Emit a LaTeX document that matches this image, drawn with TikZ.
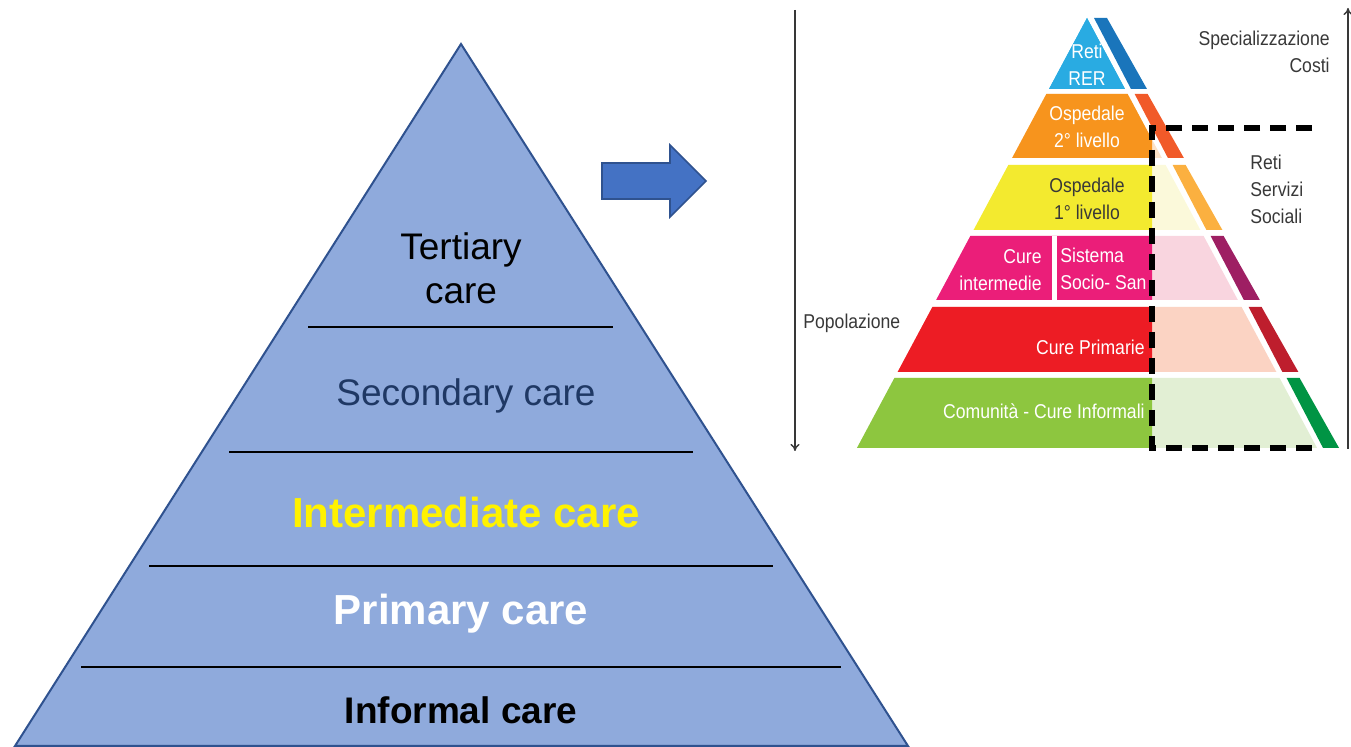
\documentclass[tikz,border=0pt]{standalone}
\usepackage{fontspec}
\setmainfont{Liberation Sans}
\newfontfamily\narrowfont[FakeStretch=0.88]{Liberation Sans}
\usetikzlibrary{arrows.meta}

\definecolor{pyrfill}{HTML}{8FAADC}
\definecolor{pyrline}{HTML}{2F528F}
\definecolor{arrfill}{HTML}{4472C4}
\definecolor{navytxt}{HTML}{1F3864}
\definecolor{greytxt}{HTML}{383838}
\definecolor{rer}{HTML}{29ABE2}
\definecolor{rerS}{HTML}{1A75BB}
\definecolor{osp2}{HTML}{F7941D}
\definecolor{osp2L}{HTML}{FDE3C8}
\definecolor{osp2S}{HTML}{F15A29}
\definecolor{osp1}{HTML}{F3EA2F}
\definecolor{osp1L}{HTML}{FBF9DA}
\definecolor{osp1S}{HTML}{FBB040}
\definecolor{inter}{HTML}{EB1E79}
\definecolor{interL}{HTML}{F9D5DF}
\definecolor{interS}{HTML}{9E1F63}
\definecolor{prim}{HTML}{ED1C24}
\definecolor{primL}{HTML}{FBD3C3}
\definecolor{primS}{HTML}{BE1E2D}
\definecolor{comm}{HTML}{8DC63F}
\definecolor{commL}{HTML}{E2EFD4}
\definecolor{commS}{HTML}{009444}

\tikzset{
  leveltxt/.style={font=\fontsize{18.5}{22}\selectfont, align=center},
  levelbold/.style={font=\fontsize{21}{25}\selectfont\bfseries},
  sepline/.style={black, line width=1pt},
  smalltxt/.style={font=\narrowfont\fontsize{10}{13.5}\selectfont, inner sep=0pt},
  axisline/.style={greytxt, line width=0.7pt, -{To[length=3.5pt,width=4.5pt]}},
  dashline/.style={black, line width=3pt, dash pattern=on 8pt off 5pt}
}

\begin{document}
\begin{tikzpicture}[x=0.5pt, y=-0.5pt]
  \useasboundingbox (0,0) rectangle (1351,747);

  % left pyramid
  \draw[pyrline, fill=pyrfill, line width=1pt] (461,44) -- (908,746) -- (15,746) -- cycle;
  \foreach \y/\a/\b in {327/308/613, 452/229/693, 566/149/773, 667/81/841}
    \draw[sepline] (\a,\y) -- (\b,\y);
  \node[leveltxt] (tert) at (461,268) {Tertiary\\care};
  \node[leveltxt, text=navytxt] (second) at (466,396) {Secondary care};
  \node[levelbold, text=yellow] (inter) at (466,512) {Intermediate care};
  \node[levelbold, text=white] (prim) at (461,614) {Primary care};
  \node[leveltxt, font=\fontsize{18.5}{22}\selectfont\bfseries] (inform) at (461,710) {Informal care};

  % block arrow
  \draw[pyrline, fill=arrfill, line width=0.8pt] (602,163) -- (670,163) -- (670,145) -- (706,181)
    -- (670,217) -- (670,199) -- (602,199) -- cycle;

  % right pyramid
  \foreach \t/\b/\cm/\cl/\cs in {18/89/rer/rer/rerS, 94/158/osp2/osp2L/osp2S,
      165/230/osp1/osp1L/osp1S, 236/300/inter/interL/interS,
      307/372/prim/primL/primS, 378/448/comm/commL/commS}{
    \pgfmathsetmacro\lt{1087-0.535*(\t-18)}
    \pgfmathsetmacro\rt{1087+0.535*(\t-18)}
    \pgfmathsetmacro\lb{1087-0.535*(\b-18)}
    \pgfmathsetmacro\rb{1087+0.535*(\b-18)}
    \fill[\cl] (\lt,\t) -- (\rt,\t) -- (\rb,\b) -- (\lb,\b) -- cycle;
    \begin{scope}
      \clip (800,0) rectangle (1152,460);
      \fill[\cm] (\lt,\t) -- (\rt,\t) -- (\rb,\b) -- (\lb,\b) -- cycle;
    \end{scope}
    \fill[\cs] (\rt+7,\t) -- (\rt+20,\t) -- (\rb+22,\b) -- (\rb+6,\b) -- cycle;
  }
  \fill[white] (1052,236) rectangle (1057,300);
  \draw[dashline] (1312,128) -- (1152,128) -- (1152,448) -- (1317,448);

  \node[smalltxt, text=white, align=center] (reti) at (1087,65) {Reti\\RER};
  \node[smalltxt, text=white, align=center] (osp2nd) at (1087,127) {Ospedale\\2° livello};
  \node[smalltxt, text=greytxt, align=center] (osp1st) at (1087,199) {Ospedale\\1° livello};
  \node[smalltxt, text=white, align=right, anchor=east] (cureint) at (1042,270) {Cure\\intermedie};
  \node[smalltxt, text=white, align=left, anchor=west] (socio) at (1060,269) {Sistema\\Socio- San};
  \node[smalltxt, text=white, anchor=east] (cureprim) at (1145,347) {Cure Primarie};
  \node[smalltxt, text=white, anchor=east] (comun) at (1145,411) {Comunità - Cure Informali};

  % axes and side labels
  \coordinate (poptop) at (795,10);
  \coordinate (popbot) at (795,451);
  \draw[axisline] (poptop) -- (popbot);
  \coordinate (costbot) at (1348,449);
  \coordinate (costtop) at (1348,8);
  \draw[axisline] (costbot) -- (costtop);
  \node[smalltxt, text=greytxt, anchor=west] (popol) at (803,323) {Popolazione};
  \node[smalltxt, text=greytxt, align=right, anchor=east] (spec) at (1330,52) {Specializzazione\\Costi};
  \node[smalltxt, text=greytxt, align=left, anchor=west] (servizi) at (1250,189) {Reti\\Servizi\\Sociali};
\end{tikzpicture}
\end{document}
